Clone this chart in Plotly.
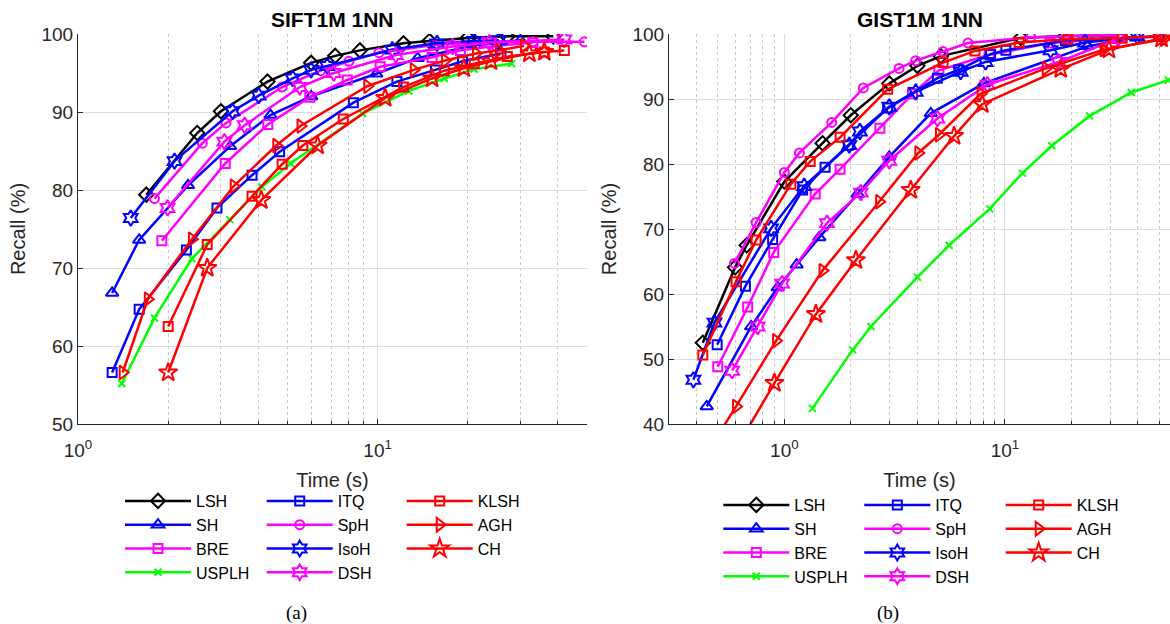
import plotly.graph_objects as go
import math

# ---------------- SIFT1M 1NN (time in s, recall in %) ----------------
sift_lsh_t = [1.69, 2.50, 3.00, 4.29, 6.00, 7.22, 8.73, 12.2, 14.9, 20.0, 27.1, 38.6]
sift_lsh_r = [79.4, 87.3, 90.1, 93.9, 96.3, 97.2, 97.9, 98.8, 99.1, 99.5, 99.7, 99.7]
sift_sh_t = [1.30, 1.60, 2.33, 3.22, 4.39, 6.00, 9.9, 13.6, 21.1, 30.0]
sift_sh_r = [66.8, 73.6, 80.6, 85.6, 89.6, 92.0, 94.9, 96.9, 98.6, 99.2]
sift_bre_t = [1.905, 3.10, 4.30, 5.94, 7.92, 10.2, 15.2, 18.9, 25.1, 33.0]
sift_bre_r = [73.5, 83.4, 88.4, 91.9, 94.1, 95.8, 97.0, 97.9, 98.5, 98.9]
sift_usplh_t = [1.40, 1.80, 2.40, 3.21, 4.11, 5.12, 8.9, 12.7, 16.7, 21.0, 28.0]
sift_usplh_r = [55.2, 63.6, 71.2, 76.2, 80.4, 83.4, 89.8, 92.7, 94.3, 95.5, 96.2]
sift_itq_t = [1.30, 1.60, 2.30, 2.91, 3.81, 4.71, 8.30, 11.6, 15.6, 19.2, 25.8]
sift_itq_r = [56.6, 64.7, 72.3, 77.7, 81.9, 84.9, 91.2, 93.9, 95.4, 96.5, 97.5]
sift_sph_t = [1.80, 2.60, 3.12, 4.80, 6.45, 8.02, 10.1, 15.4, 22.4, 33.0, 49.0]
sift_sph_r = [78.9, 86.0, 88.6, 93.2, 95.3, 96.5, 97.6, 98.6, 99.0, 99.0, 99.0]
sift_isoh_t = [1.50, 2.10, 3.28, 4.01, 5.21, 6.00, 6.79, 11.2, 15.8, 21.0, 25.4]
sift_isoh_r = [76.4, 83.7, 90.1, 92.1, 94.3, 95.4, 95.9, 98.0, 98.8, 99.1, 99.2]
sift_dsh_t = [1.99, 3.08, 3.60, 5.50, 7.14, 11.5, 17.8, 23.6, 42.0]
sift_dsh_r = [77.7, 86.2, 88.3, 93.2, 95.0, 97.3, 98.4, 98.9, 99.3]
sift_klsh_t = [2.00, 2.70, 3.81, 4.80, 5.63, 7.68, 12.2, 16.7, 21.0, 27.1, 36.0, 42.0]
sift_klsh_r = [62.5, 73.0, 79.2, 83.3, 85.7, 89.1, 93.2, 95.3, 96.2, 97.1, 97.7, 97.9]
sift_agh_t = [1.41, 1.71, 2.40, 3.31, 4.59, 5.53, 9.24, 13.2, 16.8, 21.3, 25.4, 30.8]
sift_agh_r = [56.6, 66.0, 73.7, 80.5, 85.7, 88.2, 93.3, 95.4, 96.6, 97.5, 97.9, 98.5]
sift_ch_t = [2.00, 2.70, 4.09, 6.31, 10.6, 15.2, 19.4, 23.9, 32.1, 36.0]
sift_ch_r = [56.6, 70.0, 78.7, 85.7, 91.8, 94.3, 95.6, 96.5, 97.5, 97.7]

# ---------------- GIST1M 1NN ----------------
gist_lsh_t = [0.427, 0.598, 0.675, 1.00, 1.49, 2.00, 2.99, 4.01, 5.12, 11.8, 18.8, 33.0]
gist_lsh_r = [52.5, 64.1, 67.5, 77.3, 83.2, 87.5, 92.4, 95.1, 96.6, 99.4, 99.7, 99.8]
gist_sh_t = [0.445, 0.707, 0.933, 1.137, 1.44, 2.15, 2.99, 4.61, 8.03, 23.6, 39.8]
gist_sh_r = [42.7, 55.0, 61.0, 64.5, 68.7, 75.4, 81.1, 87.8, 92.4, 98.1, 99.5]
gist_bre_t = [0.499, 0.682, 0.895, 1.38, 1.79, 2.71, 3.81, 5.02, 8.5, 16.0, 30.0, 50.0]
gist_bre_r = [48.8, 58.0, 66.4, 75.4, 79.2, 85.5, 90.8, 94.4, 96.8, 98.6, 99.3, 99.6]
gist_usplh_t = [1.34, 2.04, 2.47, 4.01, 5.58, 8.53, 12.0, 16.3, 24.2, 37.4, 55.0]
gist_usplh_r = [42.4, 51.4, 55.0, 62.6, 67.5, 73.1, 78.6, 82.8, 87.4, 91.0, 92.9]
gist_itq_t = [0.496, 0.666, 0.885, 1.21, 1.53, 1.95, 2.94, 4.94, 6.19, 8.61, 10.1, 18.8, 49.8]
gist_itq_r = [52.2, 61.2, 68.4, 76.0, 79.5, 82.9, 88.6, 93.2, 94.5, 96.9, 97.5, 99.0, 99.6]
gist_sph_t = [0.594, 0.745, 1.00, 1.17, 1.64, 2.28, 3.31, 3.94, 5.24, 6.80, 13.1, 26.2, 32.8]
gist_sph_r = [64.7, 71.0, 78.7, 81.7, 86.4, 91.7, 94.7, 95.9, 97.3, 98.6, 99.5, 99.8, 99.9]
gist_isoh_t = [0.387, 0.482, 0.871, 1.23, 1.97, 2.20, 2.99, 3.94, 6.30, 8.17, 16.1, 23.1, 39.8]
gist_isoh_r = [46.8, 55.6, 70.1, 76.6, 82.9, 85.0, 88.8, 91.1, 94.2, 95.7, 97.5, 98.7, 99.6]
gist_dsh_t = [0.58, 0.757, 0.976, 1.56, 2.22, 2.99, 4.94, 8.32, 17.5, 32.6]
gist_dsh_r = [48.2, 55.0, 61.6, 70.9, 75.6, 80.5, 87.0, 92.2, 95.7, 99.3]
gist_klsh_t = [0.427, 0.604, 0.745, 1.07, 1.31, 1.79, 2.94, 5.24, 7.31, 11.6, 19.3, 34.0, 50.5]
gist_klsh_r = [50.6, 61.9, 68.3, 76.9, 80.4, 84.1, 91.5, 95.6, 97.4, 98.7, 99.2, 99.4, 99.7]
gist_agh_t = [0.40, 0.604, 0.917, 1.49, 2.69, 4.05, 5.02, 7.76, 15.3, 28.0, 52.5]
gist_agh_r = [33.0, 42.7, 52.8, 63.6, 74.2, 81.7, 84.5, 90.8, 94.7, 97.6, 99.2]
gist_ch_t = [0.60, 0.901, 1.39, 2.11, 3.74, 5.88, 7.89, 17.9, 29.6, 51.3]
gist_ch_r = [36.0, 46.3, 56.9, 65.2, 76.0, 84.3, 89.2, 94.6, 97.6, 99.3]

methods = ["LSH", "SH", "BRE", "USPLH", "ITQ", "SpH", "IsoH", "DSH", "KLSH", "AGH", "CH"]
sift_data = {
    "LSH": (sift_lsh_t, sift_lsh_r), "SH": (sift_sh_t, sift_sh_r),
    "BRE": (sift_bre_t, sift_bre_r), "USPLH": (sift_usplh_t, sift_usplh_r),
    "ITQ": (sift_itq_t, sift_itq_r), "SpH": (sift_sph_t, sift_sph_r),
    "IsoH": (sift_isoh_t, sift_isoh_r), "DSH": (sift_dsh_t, sift_dsh_r),
    "KLSH": (sift_klsh_t, sift_klsh_r), "AGH": (sift_agh_t, sift_agh_r),
    "CH": (sift_ch_t, sift_ch_r),
}
gist_data = {
    "LSH": (gist_lsh_t, gist_lsh_r), "SH": (gist_sh_t, gist_sh_r),
    "BRE": (gist_bre_t, gist_bre_r), "USPLH": (gist_usplh_t, gist_usplh_r),
    "ITQ": (gist_itq_t, gist_itq_r), "SpH": (gist_sph_t, gist_sph_r),
    "IsoH": (gist_isoh_t, gist_isoh_r), "DSH": (gist_dsh_t, gist_dsh_r),
    "KLSH": (gist_klsh_t, gist_klsh_r), "AGH": (gist_agh_t, gist_agh_r),
    "CH": (gist_ch_t, gist_ch_r),
}

# styles (colour, marker symbol, marker size)
styles = {
    "LSH": ("#000000", "diamond-open", 11),
    "SH": ("#0000FF", "triangle-up-open", 11),
    "BRE": ("#FF00FF", "square-open", 9),
    "USPLH": ("#00FF00", "x-thin-open", 7),
    "ITQ": ("#0000FF", "square-open", 9),
    "SpH": ("#FF00FF", "circle-open", 9),
    "IsoH": ("#0000FF", "hexagram-open", 12),
    "DSH": ("#FF00FF", "hexagram-open", 12),
    "KLSH": ("#FF0000", "square-open", 9),
    "AGH": ("#FF0000", "triangle-right-open", 12),
    "CH": ("#FF0000", "star-open", 14),
}
# legend columns (column-major like the original)
leg_col = {"LSH": 1, "SH": 1, "BRE": 1, "USPLH": 1,
           "ITQ": 2, "SpH": 2, "IsoH": 2, "DSH": 2,
           "KLSH": 3, "AGH": 3, "CH": 3}

FONT = "Liberation Sans, Arial, sans-serif"
SERIF = "Liberation Serif, Times New Roman, serif"
W, H = 1170, 624

fig = go.Figure()

for data, xa, ya, legoff in [(sift_data, "x", "y", 0), (gist_data, "x2", "y2", 3)]:
    for rank, m in enumerate(methods):
        col, sym, size = styles[m]
        t, r = data[m]
        lg_idx = leg_col[m] + legoff
        lg = "legend" if lg_idx == 1 else f"legend{lg_idx}"
        fig.add_trace(go.Scatter(
            x=t, y=r, mode="lines+markers", name=m,
            line=dict(color=col, width=2.5),
            marker=dict(symbol=sym, size=size, color=col, line=dict(color=col, width=2)),
            xaxis=xa, yaxis=ya, legend=lg, legendrank=rank + 1,
            showlegend=True, cliponaxis=True,
        ))

grid_major = "#dedede"
grid_minor = "#c8c8c8"
axis_col = "#262626"


def xaxis_cfg(domain, rng, minor_vals, anchor):
    return dict(
        type="log", domain=domain, range=rng, anchor=anchor, automargin=False,
        tickmode="array", tickvals=[1, 10], ticktext=["10<sup>0</sup>", "10<sup>1</sup>"],
        showgrid=True, gridcolor=grid_major, gridwidth=1,
        showline=True, linecolor=axis_col, linewidth=1,
        ticks="inside", ticklen=5, tickcolor=axis_col, ticklabelstandoff=9,
        tickfont=dict(family=FONT, size=19, color=axis_col),
        zeroline=False,
        minor=dict(tickmode="array", tickvals=minor_vals, showgrid=True, griddash="dot",
                   gridcolor=grid_minor, gridwidth=1, ticks="inside", ticklen=3, tickcolor=axis_col),
        title=dict(text="Time (s)", font=dict(family=FONT, size=20, color=axis_col), standoff=13),
    )


def yaxis_cfg(domain, rng, anchor):
    return dict(
        domain=domain, range=rng, dtick=10, anchor=anchor, automargin=False,
        showgrid=True, gridcolor=grid_major, gridwidth=1,
        showline=True, linecolor=axis_col, linewidth=1,
        ticks="inside", ticklen=5, tickcolor=axis_col,
        tickfont=dict(family=FONT, size=19, color=axis_col),
        zeroline=False,
        title=dict(text="Recall (%)", font=dict(family=FONT, size=20, color=axis_col), standoff=10),
    )


ydom = [1 - 424 / H, 1 - 34 / H]
minor_left = [2, 3, 4, 5, 6, 7, 8, 9, 20, 30, 40, 50]
minor_right = [0.3, 0.4, 0.5, 0.6, 0.7, 0.8, 0.9, 2, 3, 4, 5, 6, 7, 8, 9, 20, 30, 40, 50]

layout = dict(
    width=W, height=H,
    margin=dict(l=0, r=0, t=0, b=0, autoexpand=False),
    paper_bgcolor="white", plot_bgcolor="white",
    font=dict(family=FONT, color="#000000"),
    xaxis=xaxis_cfg([78 / W, 587 / W], [0, math.log10(50)], minor_left, "y"),
    yaxis=yaxis_cfg(ydom, [50, 100], "x"),
    xaxis2=xaxis_cfg([669 / W, 1.0], [math.log10(0.3), math.log10(56)], minor_right, "y2"),
    yaxis2=yaxis_cfg(ydom, [40, 100], "x2"),
)

leg_pos = [(125, 484), (266.7, 484), (406.7, 484), (723.3, 488), (864.3, 488), (1005.7, 488)]
for i, (xp, yp) in enumerate(leg_pos):
    key = "legend" if i == 0 else f"legend{i + 1}"
    layout[key] = dict(
        x=(xp - 5) / W, y=1 - yp / H, xanchor="left", yanchor="top",
        orientation="v", traceorder="normal", itemwidth=66,
        bgcolor="rgba(0,0,0,0)", borderwidth=0, tracegroupgap=0,
        font=dict(family=FONT, size=16, color="#000000"),
    )

fig.update_layout(**layout)

annotations = [
    dict(text="<b>SIFT1M 1NN</b>", x=332.5 / W, y=1 - 19 / H),
    dict(text="<b>GIST1M 1NN</b>", x=919.5 / W, y=1 - 19 / H),
]
for a in annotations:
    a.update(xref="paper", yref="paper", xanchor="center", yanchor="middle", showarrow=False,
             font=dict(family=FONT, size=21, color="#000000"))
sub_labels = [
    dict(text="(a)", x=296 / W, y=1 - 613 / H),
    dict(text="(b)", x=887.5 / W, y=1 - 613 / H),
]
for a in sub_labels:
    a.update(xref="paper", yref="paper", xanchor="center", yanchor="middle", showarrow=False,
             font=dict(family=SERIF, size=19, color="#000000"))
fig.update_layout(annotations=annotations + sub_labels)

fig.write_html("out.html", config={"displayModeBar": False},
               post_script="document.body.style.margin='0';")
